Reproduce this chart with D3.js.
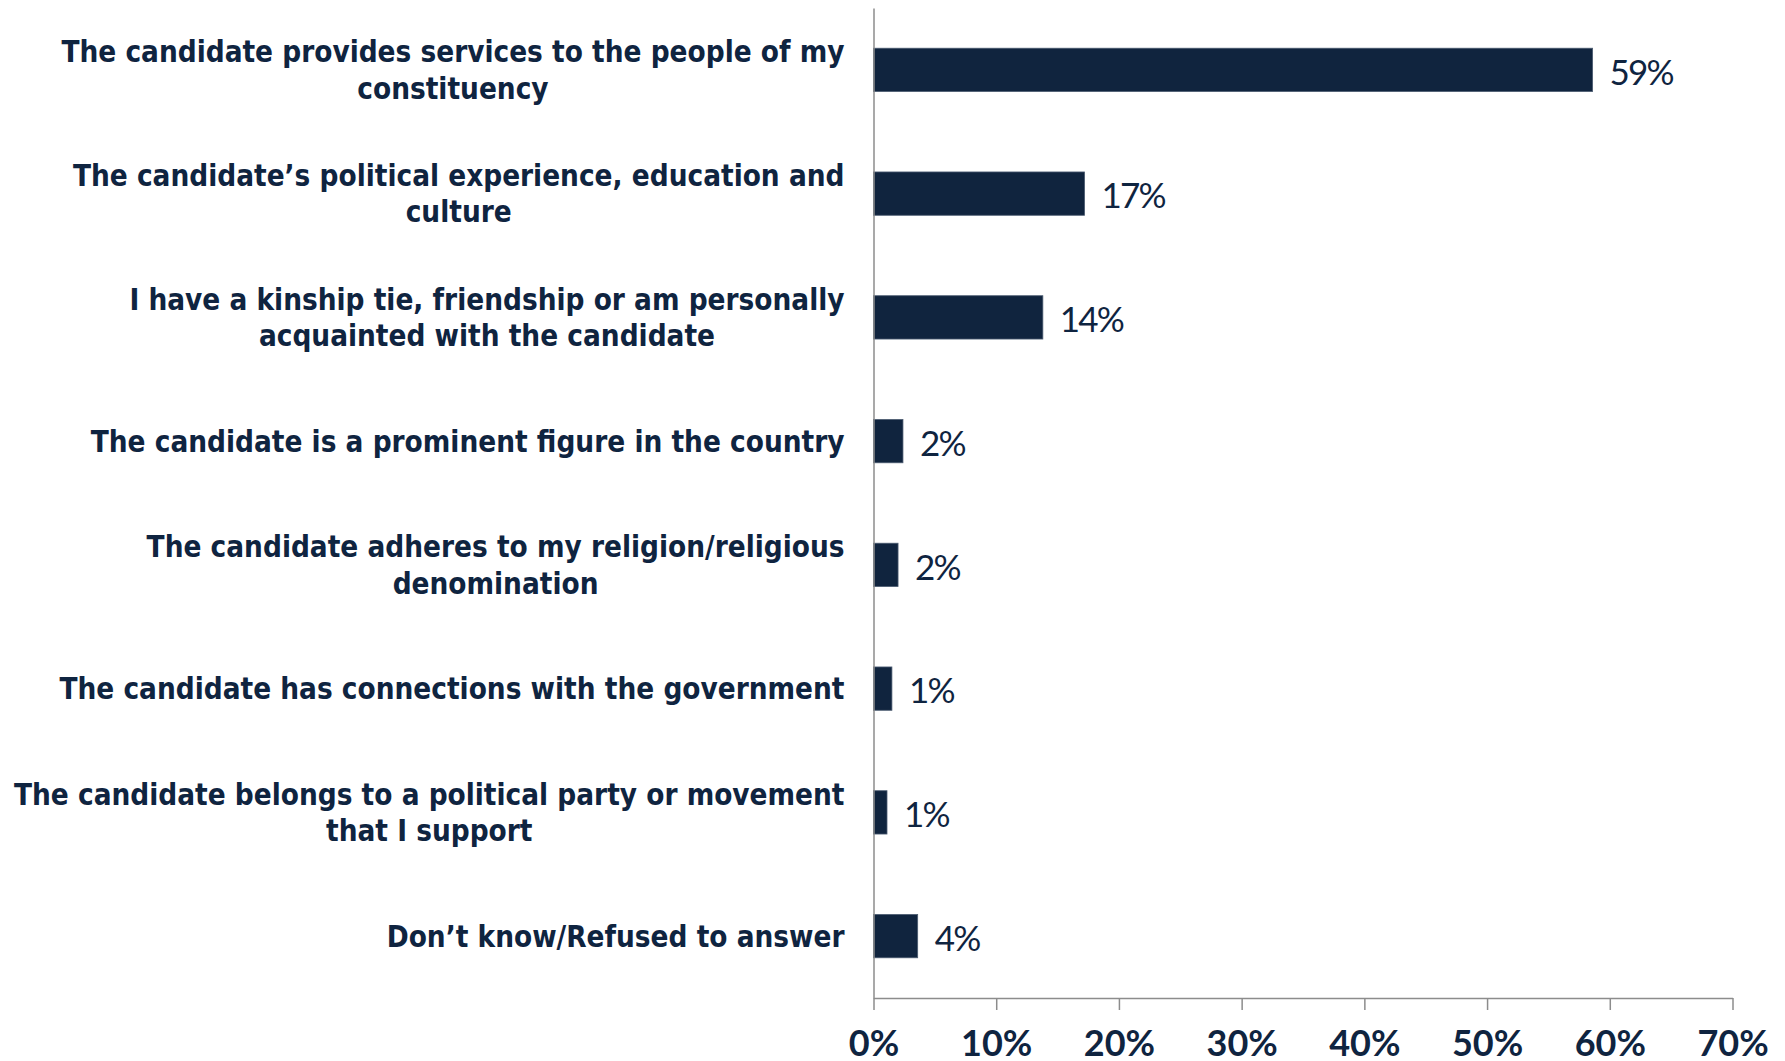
<!DOCTYPE html>
<html>
<head>
<meta charset="utf-8">
<script src="https://cdn.jsdelivr.net/npm/d3@7"></script>
<style>
  html, body { margin: 0; padding: 0; background: #ffffff; }
  svg { display: block; }
</style>
</head>
<body>
<svg id="chart" width="1785" height="1061"></svg>
<script>
// ---- data ----
const categories = [
  "The candidate provides services to the people of my|constituency",
  "The candidate’s political experience, education and|culture",
  "I have a kinship tie, friendship or am personally|acquainted with the candidate",
  "The candidate is a prominent figure in the country",
  "The candidate adheres to my religion/religious|denomination",
  "The candidate has connections with the government",
  "The candidate belongs to a political party or movement|that I support",
  "Don’t know/Refused to answer"
];
const values = [58.6, 17.2, 13.8, 2.4, 2.0, 1.5, 1.1, 3.6];
const valueLabels = ["59%", "17%", "14%", "2%", "2%", "1%", "1%", "4%"];
const xTicks = [0, 10, 20, 30, 40, 50, 60, 70];

// ---- layout ----
const navy = "#0f2440";
const axisColor = "#8c8c8c";
const plotLeft = 873.5, plotRight = 1732.5, plotTop = 8, plotBottom = 998;

const svg = d3.select("#chart");

const x = d3.scaleLinear().domain([0, 70]).range([plotLeft, plotRight]);
const y = d3.scaleBand().domain(categories).range([plotTop, plotBottom])
  .paddingInner(0.65).paddingOuter(0.325);

// bars
svg.append("g").selectAll("rect")
  .data(categories)
  .join("rect")
  .attr("x", x(0))
  .attr("y", d => y(d))
  .attr("width", (d, i) => x(values[i]) - x(0))
  .attr("height", y.bandwidth())
  .attr("fill", "#10243e")
  .attr("stroke", "#4b5b70")
  .attr("stroke-width", 0.8);

// value labels
svg.append("g").selectAll("text")
  .data(categories)
  .join("text")
  .attr("x", (d, i) => x(values[i]) + 17)
  .attr("y", d => y(d) + y.bandwidth() / 2)
  .attr("dy", "0.42em")
  .attr("font-family", "Lato, sans-serif")
  .attr("font-size", 35)
  .attr("letter-spacing", -1.8)
  .attr("fill", navy)
  .text((d, i) => valueLabels[i]);

// category labels (multi-line blocks centred, block right edge at fixed x)
const catG = svg.append("g");
const labelRight = plotLeft - 29;
categories.forEach(c => {
  const lines = c.split("|");
  const cy = y(c) + y.bandwidth() / 2;
  const lh = 36.5;
  const t = catG.append("text")
    .attr("text-anchor", "middle")
    .attr("font-family", "'DejaVu Sans Condensed', 'DejaVu Sans', sans-serif")
    .attr("font-weight", "bold")
    .attr("font-size", 29.4)
    .attr("fill", navy);
  const spans = lines.map((ln, k) => t.append("tspan")
      .attr("y", cy + (k - (lines.length - 1) / 2) * lh)
      .attr("dy", "0.36em")
      .text(ln));
  const maxW = d3.max(spans, s => s.node().getComputedTextLength());
  spans.forEach(s => s.attr("x", labelRight - maxW / 2));
});

// axes
const xAxis = d3.axisBottom(x).tickValues(xTicks).tickSize(12).tickSizeOuter(0)
  .tickFormat(d => d + "%");
const gx = svg.append("g").attr("transform", `translate(0,${plotBottom})`).call(xAxis);
gx.select(".domain").attr("stroke", axisColor).attr("stroke-width", 1.5);
gx.selectAll(".tick line").attr("stroke", axisColor).attr("stroke-width", 1.5);
gx.selectAll(".tick text")
  .attr("y", 0)
  .attr("dy", 0)
  .attr("transform", "translate(0,58)")
  .attr("font-family", "Lato, sans-serif")
  .attr("font-weight", "bold")
  .attr("font-size", 36)
  .attr("fill", navy);

const yAxis = d3.axisLeft(y).tickSize(0).tickFormat("");
const gy = svg.append("g").attr("transform", `translate(${plotLeft},0)`).call(yAxis);
gy.select(".domain").attr("stroke", axisColor).attr("stroke-width", 1.5);
</script>
</body>
</html>
